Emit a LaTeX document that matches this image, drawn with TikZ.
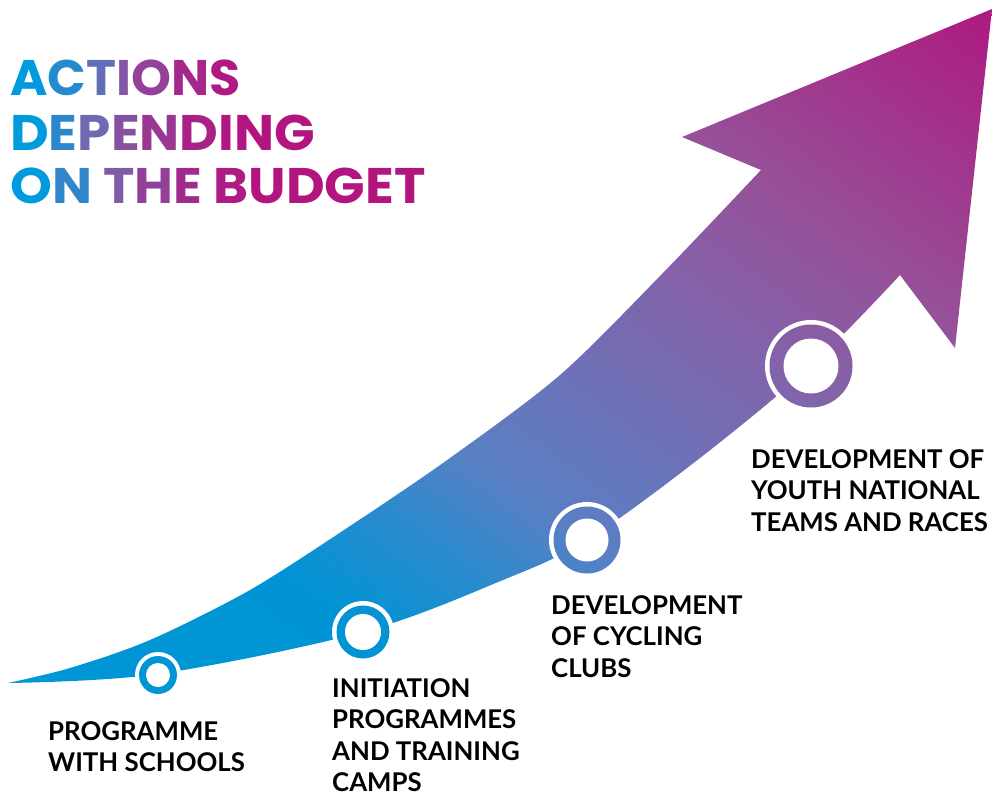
\documentclass[tikz,border=0pt]{standalone}
\usepackage{fontspec}
\newfontfamily\titlefont{Poppins}
\newfontfamily\labelfont{Lato}
\definecolor{blueC}{RGB}{0,152,216}
\definecolor{blueD}{RGB}{0,148,212}
\definecolor{blueE}{RGB}{45,138,205}
\definecolor{midA}{RGB}{90,127,196}
\definecolor{midB}{RGB}{133,97,168}
\definecolor{purpC}{RGB}{150,80,152}
\definecolor{magC}{RGB}{174,24,128}
\definecolor{tBlue}{RGB}{0,155,220}
\definecolor{tMid}{RGB}{122,100,172}
\definecolor{tMag}{RGB}{178,20,128}
\pgfdeclarehorizontalshading{arrowshade}{100bp}{color(0bp)=(blueC); color(25bp)=(blueC); color(37.3bp)=(blueD); color(42.2bp)=(blueE); color(45.9bp)=(midA); color(57bp)=(midB); color(61.9bp)=(purpC); color(73.4bp)=(magC); color(100bp)=(magC)}
\newcommand\shadefill{\begin{scope}[transform canvas={rotate=54}]\shade[shading=arrowshade] (-600,-1500) rectangle (620,1500);\end{scope}}
\newcommand\tlA[2]{\textcolor{tMid!#1!tBlue}{#2}}
\newcommand\tlB[2]{\textcolor{tMag!#1!tMid}{#2}}
\tikzset{
  titlestyle/.style={anchor=base west, inner sep=0pt, font=\titlefont\bfseries\fontsize{50}{54}\selectfont\addfontfeature{FakeStretch=#1}},
  lbl/.style={anchor=north west, inner sep=0pt, align=left, text=black, font=\labelfont\bfseries\fontsize{25.8}{31.5}\selectfont}
}
\begin{document}
\begin{tikzpicture}[x=1pt,y=-1pt]
\useasboundingbox (0,0) rectangle (992,796);
\coordinate (c1) at (158,675);
\coordinate (c2) at (363,632);
\coordinate (c3) at (587,540);
\coordinate (c4) at (811,366);
% arrow body
\begin{scope}
\clip (8,683) -- plot[smooth, tension=0.55] coordinates {(8,683) (158,674) (363,632) (503,580) (587,540) (700,458) (811,366) (900,275)} -- (955,348) -- (992,9) -- (682,137) -- (761,170) -- plot[smooth, tension=0.5] coordinates {(761,170) (660,276) (560,375) (450,458) (350,526) (250,590) (150,640) (70,668) (8,683)} -- cycle;
\shadefill
\end{scope}
% white borders
\fill[white] (c1) circle[radius=23] (c2) circle[radius=31] (c3) circle[radius=38] (c4) circle[radius=46];
% rings
\begin{scope}
\clip (c1) circle[radius=19] (c2) circle[radius=26.5] (c3) circle[radius=33.5] (c4) circle[radius=41.5];
\shadefill
\end{scope}
\fill[white] (c1) circle[radius=12] (c2) circle[radius=18] (c3) circle[radius=21.5] (c4) circle[radius=27.5];
% title
\node[titlestyle=1.015] (t1) at (10,95) {\tlA{0}{A}\tlA{30}{C}\tlA{80}{T}\tlB{16}{I}\tlB{44}{O}\tlB{76}{N}\tlB{94}{S}};
\node[titlestyle=1.066] (t2) at (10,150) {\tlA{0}{D}\tlA{36}{E}\tlA{90}{P}\tlB{24}{E}\tlB{56}{N}\tlB{84}{D}\tlB{96}{I}\tlB{100}{N}\tlB{100}{G}};
\node[titlestyle=1.064] (t3) at (10,203) {\tlA{0}{O}\tlA{40}{N} \tlB{10}{T}\tlB{45}{H}\tlB{72}{E} \tlB{92}{B}\tlB{100}{UDGET}};
% labels
\node[lbl] (l1) at (48,721) {PROGRAMME\\WITH SCHOOLS};
\node[lbl] (l2) at (332,678) {INITIATION\\PROGRAMMES\\AND TRAINING\\CAMPS};
\node[lbl] (l3) at (551,595) {DEVELOPMENT\\OF CYCLING\\CLUBS};
\node[lbl] (l4) at (751,449) {DEVELOPMENT OF\\YOUTH NATIONAL\\TEAMS AND RACES};
\end{tikzpicture}
\end{document}
